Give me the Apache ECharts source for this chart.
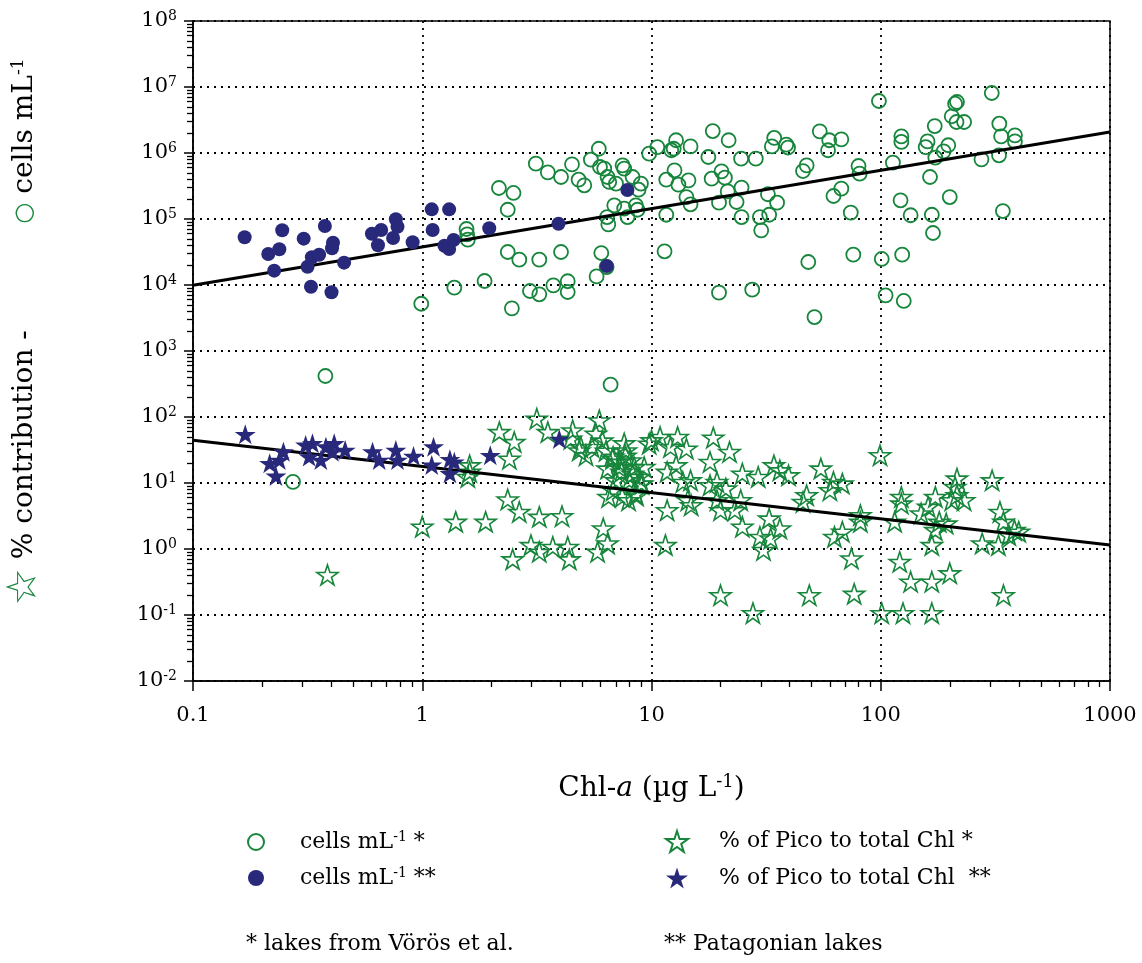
<!DOCTYPE html>
<html><head><meta charset="utf-8">
<script src="https://cdn.jsdelivr.net/npm/echarts@6.0.0/dist/echarts.min.js"></script>
<style>html,body{margin:0;padding:0;background:#fff}#c{width:1142px;height:963px}</style>
</head><body><div id="c"></div>
<script>
const GREEN = '#17863c', NAVY = '#28297a', FONT = 'DejaVu Serif';
const xTickValues = [0.1, 1, 10, 100, 1000];
const xTickLabels = ['0.1', '1', '10', '100', '1000'];
const yTickValues = [0.01, 0.1, 1, 10, 100, 1e3, 1e4, 1e5, 1e6, 1e7, 1e8];
const yTickExp = ['-2', '-1', '0', '1', '2', '3', '4', '5', '6', '7', '8'];
const seriesNames = ['cells mL-1 *', 'cells mL-1 **', '% of Pico to total Chl *', '% of Pico to total Chl  **'];

// cells mL-1, lakes from Vörös et al. [Chl-a, cells]
const vorosCells = [
[0.378,418],[0.99,5200],[1.38,9100],[1.56,70500],[1.57,58600],[1.58,48600],[1.87,11500],[2.16,295000],[2.50,248000],[2.36,138000],[2.36,31600],[2.65,24200],[2.46,4430],[2.95,8110],[3.24,7230],[3.24,24200],[3.13,689000],[3.53,509000],[4.03,433000],[4.03,31600],[3.73,9890],[4.31,11400],[4.31,7830],[4.50,673000],[4.81,394000],[5.09,324000],[5.44,792000],[5.96,614000],[6.22,579000],[5.89,1160000],[6.43,433000],[6.54,364000],[7.00,343000],[7.48,650000],[7.60,579000],[8.27,433000],[8.99,343000],[8.78,278000],[6.88,161000],[7.60,144000],[8.55,161000],[8.69,138000],[7.86,107000],[6.40,107000],[6.48,83000],[6.04,30500],[6.37,18700],[5.76,13500],[6.63,309],[9.77,977000],[0.273,10.4],
[10.6,1230000],[11.6,116000],[11.4,32400],[12.8,1560000],[12.5,1160000],[12.2,1100000],[12.6,546000],[11.6,394000],[13.1,331000],[14.5,385000],[14.8,1260000],[14.2,215000],[14.8,167000],[17.7,869000],[18.5,2150000],[21.7,1560000],[18.3,408000],[20.2,527000],[20.9,423000],[19.7,177000],[21.5,262000],[23.5,181000],[24.7,299000],[24.6,820000],[28.5,820000],[24.7,107000],[29.7,107000],[30.1,67300],[32.6,116000],[32.2,237000],[35.3,177000],[34.3,1690000],[33.5,1260000],[38.7,1340000],[39.4,1210000],[19.7,7650],[27.5,8490],[48.3,22300],[51.4,3270],[45.8,533000],[47.5,650000],[54.2,2130000],[59.6,1560000],[58.9,1100000],[67.3,1610000],[62.2,223000],[67.3,288000],[74.0,125000],[75.9,28800],[80.0,635000],[80.9,486000],[98.2,6140000],[101,24800],[105,6970],[113,714000],[122,192000],[123,1790000],[123,1470000],[135,114000],[124,28800],[126,5730],[157,1230000],[160,1500000],[172,2560000],[164,433000],[167,116000],[169,61400],[173,849000],[188,1060000],[197,1310000],[200,215000],[204,3600000],[211,5580000],[215,5930000],[214,2950000],[231,2950000],[275,802000],[305,8110000],[329,2780000],[335,1790000],[328,923000],[385,1850000],[385,1500000],[341,132000]
];
// % of Pico to total Chl, lakes from Vörös et al.
const vorosPct = [
[0.386,0.405],[1.0,2.18],[1.40,2.59],[1.89,2.59],[1.61,18.6],[1.61,14.8],[1.58,12.4],[2.17,59.3],[2.52,41.9],[2.40,23.4],[2.36,5.64],[2.65,3.66],[2.48,0.70],[2.98,1.15],[3.24,0.91],[3.24,3.08],[3.71,1.08],[4.07,3.15],[4.31,1.08],[4.38,0.70],[3.16,94.4],[3.53,59.3],[4.53,62.8],[4.84,31.3],[5.18,26.4],[4.45,47.1],[5.92,89.1],[5.72,56.0],[5.50,35.2],[6.16,2.05],[5.82,0.91],[6.43,1.22],[6.50,6.18],[7.94,5.51],[6.76,23.4],[7.23,17.5],[7.73,31.3],[8.27,13.9],[8.99,9.82],[8.55,6.93],[9.77,39.5],[6.43,16.6],[7.00,11.0],[9.29,17.5],
[4.92,35],[6.1,44],[6.34,31],[6.8,25],[7.2,21],[7.6,40],[7.7,26],[8.1,22],[8.4,17.5],[8.8,12.4],[9.1,9.8],[8.0,11],[7.4,14.8],[6.8,7.8],[7.45,6.2],[8.6,6.5],
[10.0,44.4],[11.7,3.88],[11.5,1.15],[10.9,49.9],[13.0,49.9],[12.1,35.2],[14.2,33.2],[11.7,14.8],[12.8,18.6],[13.7,10.4],[14.8,11.0],[14.9,4.62],[14.4,5.51],[18.6,48.8],[21.9,29.6],[18.0,20.9],[19.3,10.4],[18.0,9.27],[21.1,8.26],[20.0,3.88],[19.3,5.51],[23.1,3.88],[24.5,5.51],[24.9,13.9],[24.9,2.18],[29.2,12.4],[32.6,2.90],[34.2,18.6],[36.3,15.6],[39.6,13.1],[36.3,2.05],[29.7,1.53],[30.8,0.97],[33.1,1.45],[20.0,0.20],[27.7,0.107],[48.8,0.20],[76.6,0.21],[45.8,5.19],[47.5,6.55],[54.8,16.6],[60.0,7.80],[62.2,10.4],[68.0,9.82],[62.8,1.53],[68.0,1.83],[74.5,0.72],[81.5,3.27],[81.5,2.59],[99.3,26.4],[101,0.107],[125,0.107],[167,0.107],[115,2.59],[121,0.64],[123,6.18],[123,4.90],[135,0.32],[167,0.32],[200,0.43],[150,3.46],[161,4.37],[173,6.18],[180,2.59],[193,2.44],[167,1.15],[173,1.94],[215,11.7],[211,8.75],[215,6.55],[231,5.51],[204,5.51],[306,11.0],[331,3.66],[343,2.59],[383,1.94],[362,1.63],[277,1.22],[326,1.15],[343,0.20],[400,1.83]
];
// cells mL-1, Patagonian lakes
const patCells = [
[0.168,52800],[0.213,29500],[0.238,34800],[0.245,67400],[0.226,16500],[0.304,50400],[0.316,18900],[0.330,26300],[0.355,28800],[0.327,9400],[0.376,78300],[0.408,43700],[0.404,36000],[0.402,7750],[0.456,21800],[0.603,59800],[0.662,68100],[0.641,40000],[0.767,98900],[0.780,76400],[0.746,51500],[0.908,44400],[1.10,140000],[1.31,140000],[1.11,68100],[1.25,39400],[1.31,35100],[1.37,48100],[1.96,72300],[3.93,84900],[6.38,19400],[7.85,275000]
];
// % of Pico to total Chl, Patagonian lakes
const patPct = [
[0.169,54.7],[0.216,19.9],[0.230,12.8],[0.238,22.3],[0.248,29.8],[0.310,37.7],[0.332,39.9],[0.321,25.1],[0.361,22.3],[0.380,35.5],[0.413,39.9],[0.406,29.8],[0.461,31.6],[0.607,29.8],[0.649,22.3],[0.767,31.6],[0.780,22.3],[0.916,25.6],[1.12,35.5],[1.10,18.8],[1.32,22.9],[1.32,14.0],[1.38,21.0],[1.98,26.3],[3.96,46.4]
];
// regression lines (end points)
const cellsFit = [[0.1, 9900], [1000, 2080000]];
const pctFit = [[0.1, 44.4], [1000, 1.15]];

const STAR = 'path://M50 0 L61.23 34.55 L97.55 34.55 L68.17 55.9 L79.39 90.45 L50 69.1 L20.61 90.45 L31.83 55.9 L2.45 34.55 L38.77 34.55 Z';

function minorValues(lo, hi) {
  const out = [];
  for (let e = lo; e < hi; e++) for (let m = 2; m <= 9; m++) out.push(+(m * Math.pow(10, e)).toPrecision(3));
  return out;
}
const xMinor = minorValues(-1, 3);
const yMinor = minorValues(-2, 8);

const chart = echarts.init(document.getElementById('c'), null, {renderer: 'canvas'});
const supStyle = (fs, pb) => ({fontFamily: FONT, fontSize: fs, color: '#000', padding: [0, 0, pb, 0]});
const gridRect = {left: 193, right: 32, top: 21, bottom: 282};
const legendRich = {s: supStyle(14, 10)};
function legendFmt(name) { return name.replace('mL-1', 'mL{s|-1}'); }
function expOf(v) { return Math.round(Math.log10(v)); }

chart.setOption({
  animation: false,
  backgroundColor: '#fff',
  grid: [
    Object.assign({show: true, borderColor: '#000', borderWidth: 1.5, backgroundColor: 'transparent', containLabel: false}, gridRect),
    Object.assign({show: false, containLabel: false}, gridRect)
  ],
  xAxis: [{
    type: 'log', logBase: 10, min: 0.1, max: 1000, splitNumber: 4, gridIndex: 0,
    axisLine: {lineStyle: {color: '#000', width: 1.5}},
    axisTick: {show: true, length: 10, customValues: xTickValues, lineStyle: {color: '#000', width: 1.5}},
    axisLabel: {margin: 24, fontFamily: FONT, fontSize: 21, color: '#000', customValues: xTickValues,
      formatter: v => xTickLabels[expOf(v) + 1]},
    splitLine: {show: true, lineStyle: {color: '#000', width: 1.8, type: [2, 5]}},
    name: 'Chl-{i|a} (µg L{s|-1})', nameLocation: 'middle', nameGap: 92,
    nameTextStyle: {fontFamily: FONT, fontSize: 28, color: '#000',
      rich: {i: {fontFamily: FONT, fontSize: 28, fontStyle: 'italic', color: '#000'}, s: supStyle(18, 14)}}
  }, {
    type: 'log', logBase: 10, min: 0.1, max: 1000, gridIndex: 1,
    axisLine: {show: false}, axisLabel: {show: false}, splitLine: {show: false},
    axisTick: {show: true, length: 6, customValues: xMinor, lineStyle: {color: '#000', width: 1.3}}
  }],
  yAxis: [{
    type: 'log', logBase: 10, min: 0.01, max: 1e8, splitNumber: 10, gridIndex: 0,
    axisLine: {lineStyle: {color: '#000', width: 1.5}},
    axisTick: {show: true, length: 9, customValues: yTickValues, lineStyle: {color: '#000', width: 1.5}},
    axisLabel: {margin: 16, color: '#000', customValues: yTickValues, hideOverlap: false,
      formatter: v => '{b|10}{s|' + yTickExp[expOf(v) + 2] + '}',
      rich: {b: {fontFamily: FONT, fontSize: 21, color: '#000'}, s: supStyle(14, 10)}},
    splitLine: {show: true, lineStyle: {color: '#000', width: 1.8, type: [2, 5]}}
  }, {
    type: 'log', logBase: 10, min: 0.01, max: 1e8, gridIndex: 1,
    axisLine: {show: false}, axisLabel: {show: false}, splitLine: {show: false},
    axisTick: {show: true, length: 6, customValues: yMinor, lineStyle: {color: '#000', width: 1.3}}
  }],
  legend: [{
    data: [seriesNames[0], seriesNames[1]], selectedMode: false, orient: 'vertical',
    left: 247, top: 830, padding: 0, itemWidth: 16, itemHeight: 16, itemGap: 13,
    formatter: legendFmt,
    textStyle: {fontFamily: FONT, fontSize: 22, color: '#000', padding: [0, 0, 0, 31], rich: legendRich}
  }, {
    data: [seriesNames[2], seriesNames[3]], selectedMode: false, orient: 'vertical',
    left: 665, top: 830, padding: 0, itemWidth: 22, itemHeight: 22, itemGap: 14,
    formatter: legendFmt,
    textStyle: {fontFamily: FONT, fontSize: 22, color: '#000', padding: [0, 0, 0, 26], rich: legendRich}
  }],
  graphic: [
    {type: 'text', x: 25, y: 468, rotation: Math.PI / 2,
      style: {text: '{st|☆} % contribution -', align: 'center', verticalAlign: 'middle',
        font: '28px "DejaVu Serif"', fill: '#000',
        rich: {st: {fontFamily: 'DejaVu Sans', fontSize: 42, fill: GREEN}}}},
    {type: 'text', x: 25, y: 141, rotation: Math.PI / 2,
      style: {text: '{ci|○} cells mL{s|-1}', align: 'center', verticalAlign: 'middle',
        font: '28px "DejaVu Serif"', fill: '#000',
        rich: {ci: {fontFamily: 'DejaVu Sans', fontSize: 24, fill: GREEN},
               s: {fontFamily: FONT, fontSize: 17, fill: '#000', padding: [0, 0, 13, 0]}}}},
    {type: 'text', x: 246, y: 944,
      style: {text: '* lakes from Vörös et al.', align: 'left', verticalAlign: 'middle', font: '22px "DejaVu Serif"', fill: '#000'}},
    {type: 'text', x: 664, y: 944,
      style: {text: '** Patagonian lakes', align: 'left', verticalAlign: 'middle', font: '22px "DejaVu Serif"', fill: '#000'}}
  ],
  series: [
    {name: seriesNames[0], type: 'scatter', data: vorosCells, symbol: 'circle', symbolSize: 14,
      itemStyle: {color: 'rgba(255,255,255,0)', borderColor: GREEN, borderWidth: 1.8, opacity: 1}, z: 2},
    {name: seriesNames[2], type: 'scatter', data: vorosPct, symbol: STAR, symbolSize: 21, symbolKeepAspect: true,
      itemStyle: {color: 'rgba(255,255,255,0)', borderColor: GREEN, borderWidth: 1.6, opacity: 1}, z: 2},
    {type: 'line', data: cellsFit, symbol: 'none', lineStyle: {color: '#000', width: 3}, z: 3, silent: true},
    {type: 'line', data: pctFit, symbol: 'none', lineStyle: {color: '#000', width: 3}, z: 3, silent: true},
    {name: seriesNames[1], type: 'scatter', data: patCells, symbol: 'circle', symbolSize: 14,
      itemStyle: {color: NAVY, borderColor: NAVY, borderWidth: 0, opacity: 1}, z: 4},
    {name: seriesNames[3], type: 'scatter', data: patPct, symbol: STAR, symbolSize: 21, symbolKeepAspect: true,
      itemStyle: {color: NAVY, borderColor: NAVY, borderWidth: 0, opacity: 1}, z: 4}
  ]
});
</script></body></html>
